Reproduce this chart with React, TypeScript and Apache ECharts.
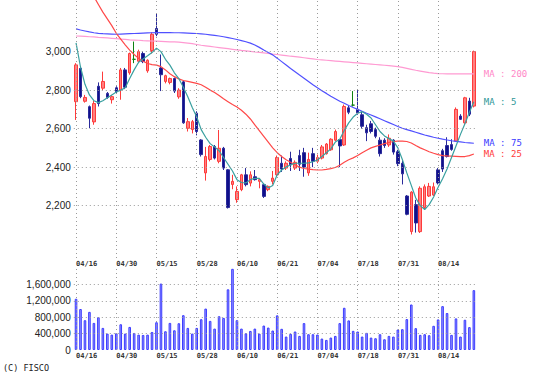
import React, { useEffect, useRef } from 'react';
import * as echarts from 'echarts';

const dates = [
  '04/16','04/17','04/18','04/19','04/22','04/23','04/24','04/25','04/26',
  '04/30','05/01','05/02','05/07','05/08','05/09','05/10','05/13','05/14',
  '05/15','05/16','05/17','05/20','05/21','05/22','05/23','05/24','05/27',
  '05/28','05/29','05/30','05/31','06/03','06/04','06/05','06/06','06/07',
  '06/10','06/11','06/12','06/13','06/14','06/17','06/18','06/19','06/20',
  '06/21','06/24','06/25','06/26','06/27','06/28','07/01','07/02','07/03',
  '07/04','07/05','07/08','07/09','07/10','07/11','07/12','07/16','07/17',
  '07/18','07/19','07/22','07/23','07/24','07/25','07/26','07/29','07/30',
  '07/31','08/01','08/02','08/05','08/06','08/07','08/08','08/09','08/13',
  '08/14','08/15','08/16','08/19','08/20','08/21','08/22','08/23','08/26'
];

const opens = [
  2740,2913,2742,2714,2635,2820,2810,2783,2750,2812,2800,2905,2890,2960,2950,2990,2900,3005,
  3120,2915,2845,2840,2860,2765,2843,2602,2595,2680,2541,2370,2440,2507,2430,2498,2386,2310,
  2231,2283,2360,2317,2350,2326,2309,2283,2326,2360,2420,2395,2445,2395,2460,2475,2370,2470,
  2430,2447,2470,2490,2540,2543,2515,2708,2722,2700,2672,2605,2625,2595,2540,2540,2515,2540,
  2480,2420,2250,2065,2205,2065,2190,2250,2255,2386,2485,2512,2517,2535,2665,2630,2743,2717
];
const closes = [
  2931,2766,2762,2654,2730,2730,2845,2762,2766,2792,2905,2815,2990,2960,3000,2948,2955,3090,
  3090,2880,2875,2860,2795,2800,2630,2636,2636,2585,2465,2455,2507,2447,2498,2395,2190,2326,
  2274,2360,2309,2360,2335,2335,2248,2300,2343,2450,2390,2420,2412,2425,2415,2400,2440,2430,
  2450,2505,2520,2545,2585,2510,2715,2685,2722,2682,2612,2578,2585,2560,2470,2512,2550,2478,
  2418,2365,2155,2270,2110,2290,2298,2300,2298,2318,2390,2455,2492,2700,2648,2760,2675,3000
];
const lows = [
  2645,2758,2735,2602,2620,2715,2800,2755,2730,2785,2750,2805,2880,2940,2940,2940,2890,2990,
  3080,2795,2835,2830,2785,2755,2625,2585,2575,2565,2455,2330,2430,2440,2420,2385,2185,2285,
  2215,2275,2300,2300,2330,2290,2240,2275,2310,2350,2375,2385,2380,2385,2380,2350,2355,2400,
  2420,2440,2465,2485,2535,2400,2510,2675,2715,2672,2600,2535,2575,2550,2455,2500,2505,2465,
  2405,2310,2150,2050,2060,2058,2180,2245,2250,2310,2375,2450,2485,2535,2645,2625,2665,2710
];
const highs = [
  2940,2922,2775,2720,2745,2840,2896,2790,2775,2820,2915,2915,2995,3052,3010,3000,2960,3100,
  3196,2985,2880,2865,2865,2810,2850,2655,2645,2690,2545,2505,2515,2515,2593,2505,2390,2360,
  2300,2365,2395,2378,2385,2340,2315,2305,2380,2460,2460,2430,2480,2435,2490,2500,2475,2500,
  2465,2515,2525,2550,2595,2545,2725,2720,2795,2805,2690,2620,2640,2605,2555,2550,2570,2545,
  2490,2435,2255,2275,2230,2300,2310,2318,2320,2395,2495,2555,2545,2710,2675,2765,2760,3005
];

const volumes = [
  1250000,1000000,727000,930000,661000,800000,539000,400000,375000,408000,628000,400000,
  563000,416000,375000,367000,375000,440000,677000,1620000,457000,661000,481000,653000,
  849000,539000,400000,539000,751000,1010000,710000,522000,824000,784000,1480000,1980000,
  727000,522000,408000,465000,522000,400000,596000,547000,475000,845000,517000,328000,
  394000,451000,344000,656000,385000,385000,377000,279000,246000,303000,344000,656000,
  1030000,722000,467000,451000,328000,418000,303000,287000,385000,262000,344000,328000,
  500000,508000,754000,1110000,533000,369000,385000,361000,590000,746000,1070000,902000,
  369000,771000,328000,738000,558000,1460000
];

const ma5 = [
  3045,2920,2830,2775,2745,2735,2745,2760,2775,2790,2800,2812,2860,2905,2945,2962,2978,2995,
  3018,3000,2960,2930,2890,2860,2815,2765,2710,2660,2595,2555,2522,2505,2485,2450,2415,2380,
  2335,2320,2318,2335,2342,2342,2312,2292,2305,2360,2385,2400,2412,2420,2420,2420,2422,2428,
  2437,2455,2475,2495,2530,2545,2590,2630,2660,2680,2688,2675,2655,2620,2585,2562,2548,2535,
  2500,2440,2370,2305,2240,2200,2180,2205,2245,2295,2340,2390,2450,2510,2570,2625,2685,2740
];
const ma25 = [
  3440,3400,3360,3320,3285,3245,3205,3170,3135,3095,3065,3035,3008,2985,2965,2950,2938,2932,
  2930,2922,2905,2885,2870,2858,2850,2845,2840,2835,2828,2815,2800,2788,2772,2755,2740,2725,
  2712,2695,2675,2650,2620,2590,2560,2530,2500,2475,2455,2438,2425,2412,2400,2393,2390,2387,
  2385,2385,2388,2392,2398,2410,2425,2438,2448,2460,2475,2488,2500,2508,2515,2522,2528,2533,
  2535,2535,2533,2525,2512,2500,2490,2480,2472,2465,2460,2458,2457,2456,2455,2455,2460,2468
];
const ma75 = [
  3118,3112,3107,3102,3098,3095,3093,3092,3091,3090,3091,3092,3093,3094,3095,3096,3097,3098,
  3099,3099,3099,3099,3098,3098,3097,3096,3095,3094,3092,3090,3087,3084,3081,3077,3073,3068,
  3063,3057,3051,3044,3034,3022,3008,2995,2983,2966,2948,2930,2912,2895,2878,2862,2845,2828,
  2812,2797,2783,2768,2755,2742,2732,2720,2710,2700,2690,2680,2671,2661,2651,2641,2631,2621,
  2611,2602,2595,2588,2581,2574,2567,2561,2555,2550,2545,2541,2537,2534,2531,2528,2526,2524
];
const ma200 = [
  3081,3080,3079,3077,3076,3074,3073,3071,3069,3067,3065,3063,3061,3060,3059,3057,3056,3055,
  3054,3053,3052,3051,3050,3049,3047,3044,3041,3037,3033,3030,3027,3024,3021,3018,3015,3012,
  3009,3006,3004,3001,2998,2996,2993,2990,2987,2985,2982,2979,2976,2974,2971,2968,2965,2962,
  2959,2957,2955,2953,2951,2949,2947,2945,2943,2941,2939,2937,2935,2933,2931,2929,2927,2925,
  2922,2918,2913,2908,2903,2899,2895,2891,2888,2886,2885,2884,2884,2884,2884,2884,2884,2884
];

const priceTicks = [2200, 2400, 2600, 2800, 3000];
const volumeTicks = [0, 400000, 800000, 1200000, 1600000];
const labelEvery = 9;

const fmt = (v: number) => v.toLocaleString('en-US');

export default function App() {
  const ref = useRef<HTMLDivElement>(null);

  useEffect(() => {
    const chart = echarts.init(ref.current!, undefined, { renderer: 'svg' });
    const candles = dates.map((_, i) => [opens[i], closes[i], lows[i], highs[i]]);
    const dotted = { color: '#9a9a9a', type: [1, 3] as any, width: 1 };
    const showIdx = (i: number) => i % labelEvery === 0;
    const vLines = dates.filter((_, i) => showIdx(i)).map((d) => ({ xAxis: d }));
    const priceLines = priceTicks.map((v) => ({ yAxis: v }));
    const volLines = volumeTicks.filter((v) => v > 0).map((v) => ({ yAxis: v }));

    const xLabel = {
      interval: (i: number) => showIdx(i),
      align: 'left' as const,
      fontFamily: 'DejaVu Sans Mono',
      fontSize: 7,
      fontWeight: 'bold' as const,
      color: '#333',
      margin: 2,
    };
    const yLabelStyle = {
      fontFamily: 'Liberation Sans',
      fontSize: 10,
      color: '#222',
      margin: 3,
    };
    const maLine = (name: string, data: number[], color: string, labelColor: string) => ({
      name,
      type: 'line',
      xAxisIndex: 0,
      yAxisIndex: 0,
      data,
      symbol: 'none',
      showSymbol: false,
      z: 4,
      silent: true,
      lineStyle: { color, width: 1.2 },
      endLabel: {
        show: true,
        formatter: name,
        color: labelColor,
        fontFamily: 'DejaVu Sans Mono',
        fontSize: 9,
        distance: 10,
      },
    });

    chart.setOption({
      animation: false,
      backgroundColor: '#ffffff',
      grid: [
        { left: 73.8, right: 64.9, top: 0, height: 258 },
        { left: 73.8, right: 64.9, top: 268, height: 82 },
      ],
      xAxis: [
        {
          type: 'category', gridIndex: 0, data: dates, boundaryGap: true,
          axisLine: { show: false }, axisTick: { show: false }, splitLine: { show: false },
          axisLabel: xLabel,
        },
        {
          type: 'category', gridIndex: 1, data: dates, boundaryGap: true,
          axisLine: { show: false }, axisTick: { show: false }, splitLine: { show: false },
          axisLabel: xLabel,
        },
      ],
      yAxis: [
        {
          type: 'value', gridIndex: 0, min: 1928, max: 3268, splitNumber: 7,
          axisLine: { show: false }, axisTick: { show: false }, splitLine: { show: false },
          axisLabel: {
            ...yLabelStyle,
            showMinLabel: false, showMaxLabel: false,
            formatter: (v: number) => (priceTicks.includes(v) ? fmt(v) : ''),
          },
        },
        {
          type: 'value', gridIndex: 1, min: 0, max: 2000000, interval: 400000,
          axisLine: { show: false }, axisTick: { show: false }, splitLine: { show: false },
          axisLabel: {
            ...yLabelStyle,
            formatter: (v: number) => (volumeTicks.includes(v) ? fmt(v) : ''),
          },
        },
      ],
      graphic: [
        {
          type: 'text', left: 3, top: 363,
          style: { text: '(C) FISCO', fontFamily: 'DejaVu Sans Mono', fontSize: 8.5, fill: '#222' },
        },
      ],
      series: [
        {
          name: 'grid-main', type: 'line', xAxisIndex: 0, yAxisIndex: 0, data: closes,
          symbol: 'none', silent: true, z: 1, lineStyle: { opacity: 0 },
          markLine: {
            silent: true, symbol: ['none', 'none'], label: { show: false },
            lineStyle: dotted, emphasis: { disabled: true },
            data: [...vLines, ...priceLines],
          },
        },
        {
          name: 'grid-vol', type: 'line', xAxisIndex: 1, yAxisIndex: 1, data: volumes,
          symbol: 'none', silent: true, z: 1, lineStyle: { opacity: 0 },
          markLine: {
            silent: true, symbol: ['none', 'none'], label: { show: false },
            lineStyle: dotted, emphasis: { disabled: true },
            data: [...vLines, ...volLines],
          },
        },
        {
          name: 'price', type: 'candlestick', xAxisIndex: 0, yAxisIndex: 0, data: candles,
          barWidth: 3, z: 3, silent: true,
          itemStyle: {
            color: '#ff8080', color0: '#10108a',
            borderColor: '#ff3b3b', borderColor0: '#2a2a9a', borderColorDoji: '#108010',
            borderWidth: 1,
          },
        },
        maLine('MA : 200', ma200, '#ff9ad2', '#ff88c8'),
        maLine('MA : 75', ma75, '#5050ff', '#3a3aff'),
        maLine('MA : 25', ma25, '#ff4848', '#ff3a3a'),
        maLine('MA : 5', ma5, '#3aa0a0', '#309898'),
        {
          name: 'volume', type: 'bar', xAxisIndex: 1, yAxisIndex: 1, data: volumes,
          barWidth: 2.6, z: 3, silent: true,
          itemStyle: { color: '#9c9cff', borderColor: '#3c3cff', borderWidth: 1 },
        },
      ],
    });
    return () => chart.dispose();
  }, []);

  return (
    <div
      ref={ref}
      style={{ position: 'absolute', left: 0, top: 0, width: 541, height: 377 }}
    />
  );
}
